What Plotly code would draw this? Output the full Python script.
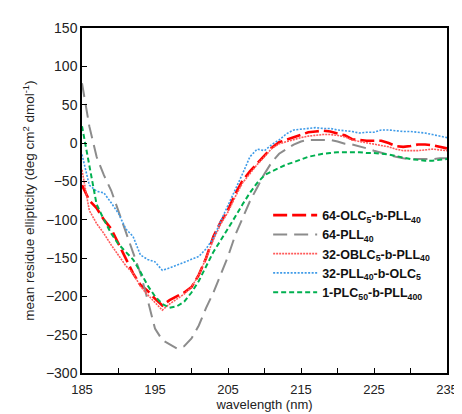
import plotly.graph_objects as go

wavelength = list(range(185, 236))

olc5_pll40 = [-55, -75, -85, -100, -112, -132, -152, -170, -185, -193,
              -203, -212, -205, -200, -195, -188, -172, -150, -122, -103,
              -87, -66, -49, -37, -27, -17, -6, 1, 4, 7,
              10, 14, 15, 16, 15, 12, 10, 5, 4, 3,
              3, 3, 0, -4, -5, -4, -2, -2, -3, -5, -7]

pll40 = [78, 22, -18, -42, -62, -88, -116, -143, -170, -205,
         -242, -257, -263, -268, -265, -255, -238, -215, -195, -172,
         -148, -120, -99, -76, -58, -40, -25, -14, -8, -2,
         2, 4, 4, 4, 4, 2, -1, -2, -4, -7,
         -10, -13, -15, -18, -20, -21, -21, -21, -21, -20, -20]

oblc5_pll40 = [-35, -88, -105, -118, -133, -147, -160, -170, -187, -198,
               -208, -218, -210, -203, -197, -188, -172, -150, -126, -106,
               -90, -70, -52, -40, -28, -18, -7, -1, 2, 5,
               7, 9, 10, 11, 11, 10, 8, 4, 2, 0,
               -2, -3, -5, -8, -10, -10, -10, -9, -8, -9, -10]

pll40_olc5 = [-15, -55, -63, -65, -78, -92, -112, -122, -146, -152,
              -155, -166, -163, -159, -156, -152, -148, -138, -124, -102,
              -82, -62, -40, -18, -8, -10, -2, 4, 12, 17,
              18, 19, 20, 19, 19, 17, 16, 15, 13, 14,
              14, 17, 17, 16, 15, 15, 14, 13, 11, 9, 7]

plc50_pll400 = [22, -30, -80, -100, -118, -132, -142, -152, -168, -186,
                -200, -210, -215, -213, -207, -195, -180, -160, -142, -127,
                -112, -96, -80, -65, -52, -42, -37, -32, -28, -25,
                -21, -18, -16, -14, -13, -12, -12, -12, -12, -13,
                -13, -14, -15, -17, -19, -21, -22, -23, -23, -22, -21]

names = ["64-OLC<sub>5</sub>-b-PLL<sub>40</sub>",
         "64-PLL<sub>40</sub>",
         "32-OBLC<sub>5</sub>-b-PLL<sub>40</sub>",
         "32-PLL<sub>40</sub>-b-OLC<sub>5</sub>",
         "1-PLC<sub>50</sub>-b-PLL<sub>400</sub>"]
series = [olc5_pll40, pll40, oblc5_pll40, pll40_olc5, plc50_pll400]
colors = ["#FF0000", "#8C8C8C", "#FF5A5A", "#3F9BE8", "#00B050"]
widths = [2.6, 2.0, 1.6, 1.6, 2.0]
dashes = ["14px,5px", "14px,7px", "2px,1px", "2px,1.5px", "5px,3px"]

fig = go.Figure()
for n, s, c, w, d in zip(names, series, colors, widths, dashes):
    fig.add_trace(go.Scatter(x=wavelength, y=s, mode="lines", name=n,
                             line=dict(color=c, width=w, dash=d)))

FONT = "Liberation Sans, Arial"
axis_common = dict(showline=True, linecolor="black", linewidth=1.5, mirror=True,
                   ticks="inside", ticklen=5, tickcolor="black", tickwidth=1,
                   showgrid=False, zeroline=False)

fig.update_xaxes(range=[185, 235], dtick=10, tick0=185,
                 tickfont=dict(family=FONT, size=13, color="#222"),
                 ticklabelstandoff=4,
                 minor=dict(dtick=5, ticks="inside", ticklen=5, tickcolor="black", showgrid=False),
                 title=dict(text="wavelength (nm)", standoff=4,
                            font=dict(family=FONT, size=13, color="#222")),
                 **axis_common)
fig.update_yaxes(range=[-300, 150], dtick=50,
                 tickfont=dict(family=FONT, size=14, color="#222"),
                 title=dict(text="mean residue ellipticity (deg cm<sup>2</sup> dmol<sup>-1</sup>)",
                            standoff=8,
                            font=dict(family=FONT, size=13.5, color="#222")),
                 **axis_common)

fig.update_layout(
    width=462, height=414,
    margin=dict(l=74, r=14, t=19, b=46),
    paper_bgcolor="white", plot_bgcolor="white",
    showlegend=True,
    legend=dict(x=0.51, y=0.5, xanchor="left", yanchor="top",
                bgcolor="rgba(0,0,0,0)",
                font=dict(family=FONT, size=12.5, color="#111", weight="bold"),
                itemwidth=44, tracegroupgap=0),
)

fig.write_html("out.html")
